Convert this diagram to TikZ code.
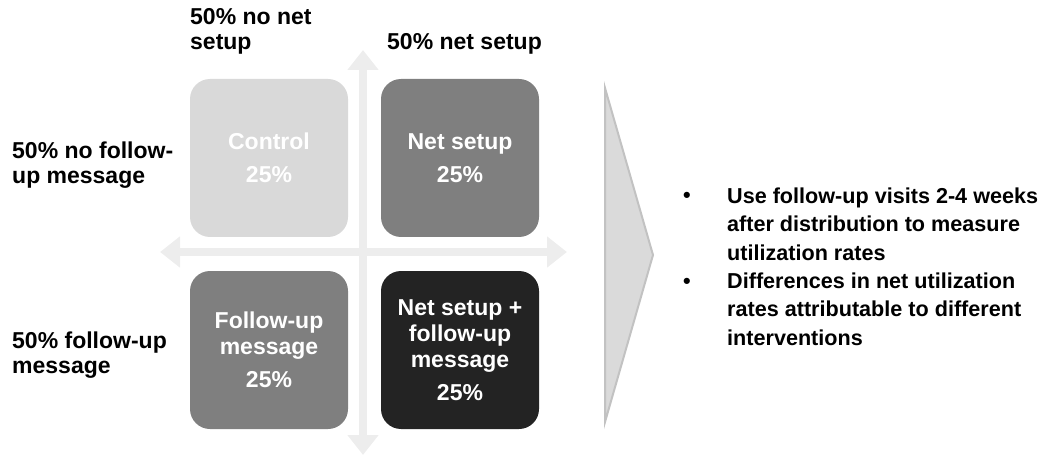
\documentclass[tikz,border=0pt]{standalone}
\usepackage{fontspec}
\setmainfont{Liberation Sans}
\usepackage{tikz}
\usetikzlibrary{arrows.meta,calc,positioning}
\usepackage{xcolor}

\definecolor{ctrlgray}{HTML}{D9D9D9}
\definecolor{midgray}{HTML}{7F7F7F}
\definecolor{darkgray}{HTML}{232323}
\definecolor{axisgray}{HTML}{EDEDED}
\definecolor{chevgray}{HTML}{DADADA}
\definecolor{chevedge}{HTML}{C2C2C2}

\tikzset{
  cell/.style={rounded corners=20pt, minimum width=158pt, minimum height=158pt,
    inner sep=0pt, align=center, text=white, font=\bfseries\fontsize{23}{26}\selectfont},
  grouplabel/.style={anchor=base west, align=left, inner sep=0pt,
    font=\bfseries\fontsize{23}{25}\selectfont},
  bulletline/.style={anchor=base west, align=left, inner sep=0pt,
    font=\bfseries\fontsize{21.6}{28.4}\selectfont},
  axis/.style={draw=axisgray, line width=8pt,
    {Triangle[width=30pt,length=20pt]}-{Triangle[width=30pt,length=20pt]}}
}

\begin{document}
\begin{tikzpicture}[x=1pt,y=-1pt]
\useasboundingbox (0,0) rectangle (1044,457);
% axes
\coordinate (ytop) at (363,50);
\coordinate (ybot) at (363,455);
\coordinate (xleft) at (160,252);
\coordinate (xright) at (567,252);
\draw[axis] (ytop) -- (ybot);
\draw[axis] (xleft) -- (xright);
% the four groups
\node[cell, fill=ctrlgray] (ctrl) at (269,158) {Control\\[7pt]25\%};
\node[cell, fill=midgray] (net) at (460,158) {Net setup\\[7pt]25\%};
\node[cell, fill=midgray] (fup) at (269,350) {Follow-up\\message\\[7pt]25\%};
\node[cell, fill=darkgray] (netfup) at (460,350) {Net setup +\\follow-up\\message\\[7pt]25\%};
% labels (base = last line)
\node[grouplabel] (nonet) at (190,50) {50\% no net\\setup};
\node[grouplabel] (withnet) at (387,50) {50\% net setup};
\node[grouplabel] (nomsg) at (12,184) {50\% no follow-\\up message};
\node[grouplabel] (withmsg) at (12,373) {50\% follow-up\\message};
% chevron
\fill[chevgray] (605,88) -- (653,255) -- (605,422) -- cycle;
\draw[chevedge, line width=2pt, line join=miter] (605,88) -- (653,255) -- (605,422) -- cycle;
% bullets
\node[bulletline] (dot1) at (683,203) {•};
\node[bulletline] (item1) at (727,260) {Use follow-up visits 2-4 weeks\\after distribution to measure\\utilization rates};
\node[bulletline] (dot2) at (683,288) {•};
\node[bulletline] (item2) at (727,345) {Differences in net utilization\\rates attributable to different\\interventions};
\end{tikzpicture}
\end{document}
